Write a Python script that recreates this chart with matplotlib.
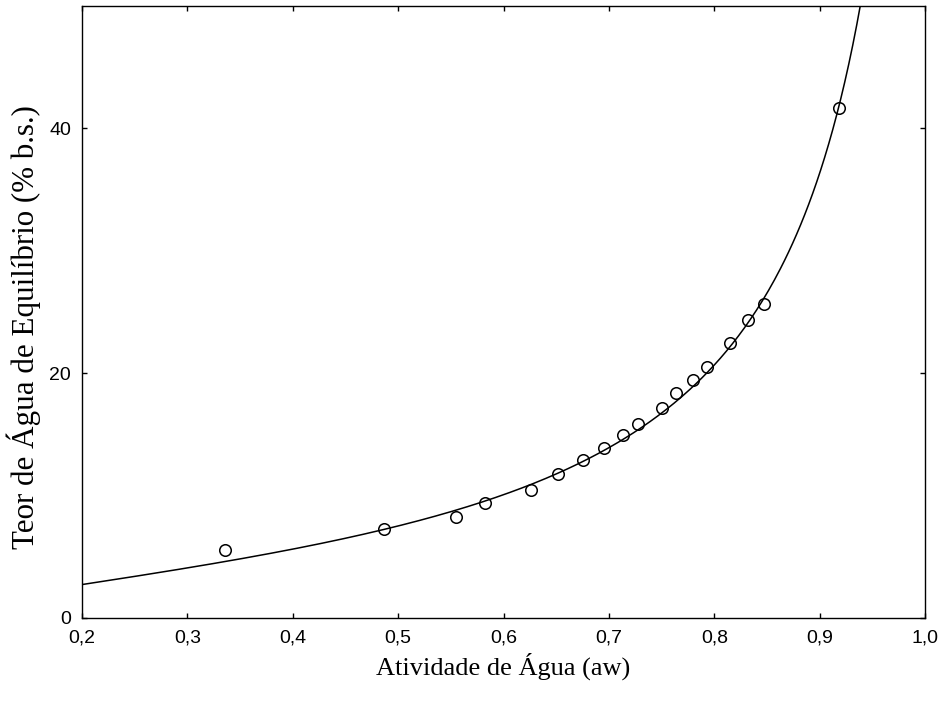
import matplotlib
matplotlib.use("Agg")
from matplotlib import pyplot as plt
import numpy as np

# sorption data: water activity vs equilibrium moisture content (% dry basis)
aw_obs = [0.336, 0.487, 0.555, 0.582, 0.626, 0.652, 0.675, 0.695, 0.713,
          0.728, 0.750, 0.764, 0.780, 0.793, 0.815, 0.832, 0.847, 0.918]
teor_obs = [5.55, 7.24, 8.27, 9.36, 10.45, 11.76, 12.87, 13.88, 14.94,
            15.81, 17.14, 18.39, 19.43, 20.47, 22.47, 24.33, 25.63, 41.7]

# GAB parameters of the fitted isotherm
Xm = 5.39
C = 2.94
K = 0.955

x_ticks = [0.2, 0.3, 0.4, 0.5, 0.6, 0.7, 0.8, 0.9, 1.0]
x_ticklabels = ["0,2", "0,3", "0,4", "0,5", "0,6", "0,7", "0,8", "0,9", "1,0"]
y_ticks = [0, 20, 40]
y_ticklabels = ["0", "20", "40"]


def gab(aw, xm, c, k):
    return xm * c * k * aw / ((1 - k * aw) * (1 - k * aw + c * k * aw))


fig = plt.figure(figsize=(9.47, 7.02), dpi=100)
ax = fig.add_axes([0.0866, 0.1197, 0.8902, 0.8718])

aw_fit = np.linspace(0.2, 0.96, 400)
ax.plot(aw_fit, gab(aw_fit, Xm, C, K), color="black", lw=1.1)
ax.plot(aw_obs, teor_obs, linestyle="none", marker="o", markersize=8.3,
        markerfacecolor="none", markeredgecolor="black", markeredgewidth=1.1)

ax.set_xlim(0.2, 1.0)
ax.set_ylim(0, 50)
ax.set_xticks(x_ticks)
ax.set_xticklabels(x_ticklabels, fontfamily="Liberation Sans", fontsize=14)
ax.set_yticks(y_ticks)
ax.set_yticklabels(y_ticklabels, fontfamily="Liberation Sans", fontsize=14)
ax.tick_params(direction="in", length=3.5, width=1.0, top=True, right=True,
               pad=8)

for sp in ax.spines.values():
    sp.set_linewidth(1.0)

ax.set_xlabel("Atividade de Água (aw)", fontfamily="Liberation Serif",
              fontsize=19, labelpad=5)
ax.set_ylabel("Teor de Água de Equilíbrio (% b.s.)", fontfamily="Liberation Serif",
              fontsize=22.3)
ax.yaxis.set_label_coords(-0.049, 0.476)

fig.savefig("out.png", dpi=100)
